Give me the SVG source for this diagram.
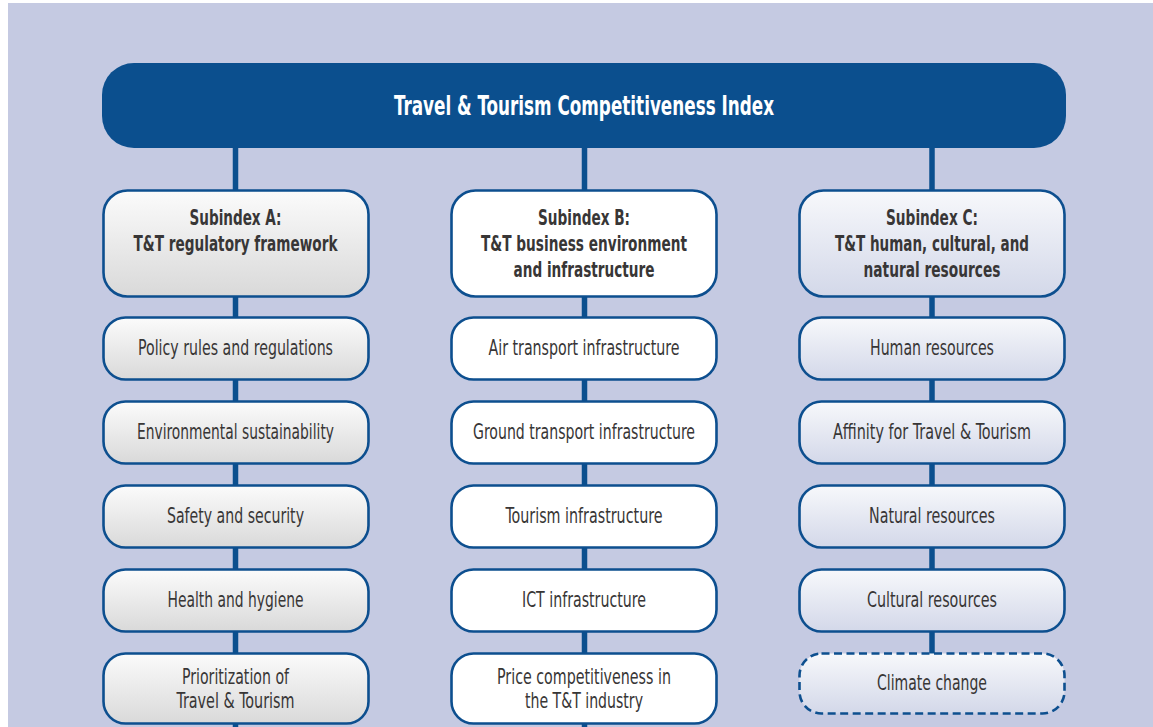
<svg xmlns="http://www.w3.org/2000/svg" width="1153" height="727" viewBox="0 0 1153 727">
<defs>
<linearGradient id="gA" x1="0" y1="0" x2="0" y2="1"><stop offset="0" stop-color="#fbfbfb"/><stop offset="1" stop-color="#d9d9d9"/></linearGradient>
<linearGradient id="gC" x1="0" y1="0" x2="0" y2="1"><stop offset="0" stop-color="#f7f8fb"/><stop offset="1" stop-color="#d3d8e9"/></linearGradient>
<style>
.box{stroke:#0d4f8f;stroke-width:2.6}
.a{fill:url(#gA)}
.b{fill:#ffffff}
.c{fill:url(#gC)}
.dash{stroke-dasharray:8 4.5}
.t{font-family:"Liberation Sans Narrow","DejaVu Sans Condensed","Liberation Sans",sans-serif;font-size:21px;fill:#383636;text-anchor:middle}
.h{font-weight:bold}
.title{font-family:"Liberation Sans Narrow","DejaVu Sans Condensed","Liberation Sans",sans-serif;font-size:26px;font-weight:bold;fill:#ffffff;text-anchor:middle}
.conn{stroke:#0b4f8e;stroke-width:5.5;fill:none}
</style>
</defs>
<rect x="0" y="0" width="1153" height="727" fill="#ffffff"/>
<rect x="8" y="3" width="1145" height="724" fill="#c5cae2"/>
<g id="connectors">
<line class="conn" x1="235.5" y1="140" x2="235.5" y2="727"/>
<line class="conn" x1="584.5" y1="140" x2="584.5" y2="727"/>
<line class="conn" x1="932" y1="140" x2="932" y2="660"/>
</g>
<g id="title">
<rect x="102" y="63" width="964" height="85" rx="32" fill="#0b4f8e"/>
<text class="title" x="584" y="115" textLength="380" lengthAdjust="spacingAndGlyphs">Travel &amp; Tourism Competitiveness Index</text>
</g>
<g id="subA">
<rect class="box a" x="103.5" y="190.5" width="265" height="106" rx="24"/>
<text class="t h" x="235.5" y="225" textLength="92" lengthAdjust="spacingAndGlyphs">Subindex A:</text>
<text class="t h" x="235.5" y="251" textLength="204" lengthAdjust="spacingAndGlyphs">T&amp;T regulatory framework</text>
</g>
<g id="subB">
<rect class="box b" x="451.5" y="190.5" width="265" height="106" rx="24"/>
<text class="t h" x="584" y="225" textLength="92" lengthAdjust="spacingAndGlyphs">Subindex B:</text>
<text class="t h" x="584" y="251" textLength="206" lengthAdjust="spacingAndGlyphs">T&amp;T business environment</text>
<text class="t h" x="584" y="277" textLength="141" lengthAdjust="spacingAndGlyphs">and infrastructure</text>
</g>
<g id="subC">
<rect class="box c" x="799.5" y="190.5" width="265" height="106" rx="24"/>
<text class="t h" x="932" y="225" textLength="92" lengthAdjust="spacingAndGlyphs">Subindex C:</text>
<text class="t h" x="932" y="251" textLength="194" lengthAdjust="spacingAndGlyphs">T&amp;T human, cultural, and</text>
<text class="t h" x="932" y="277" textLength="137" lengthAdjust="spacingAndGlyphs">natural resources</text>
</g>
<g id="a1"><rect class="box a" x="103.5" y="317.5" width="265" height="62" rx="22"/><text class="t" x="235.5" y="355" textLength="195" lengthAdjust="spacingAndGlyphs">Policy rules and regulations</text></g>
<g id="a2"><rect class="box a" x="103.5" y="401.5" width="265" height="62" rx="22"/><text class="t" x="235.5" y="439" textLength="197" lengthAdjust="spacingAndGlyphs">Environmental sustainability</text></g>
<g id="a3"><rect class="box a" x="103.5" y="485.5" width="265" height="62" rx="22"/><text class="t" x="235.5" y="523" textLength="137" lengthAdjust="spacingAndGlyphs">Safety and security</text></g>
<g id="a4"><rect class="box a" x="103.5" y="569.5" width="265" height="62" rx="22"/><text class="t" x="235.5" y="607" textLength="136" lengthAdjust="spacingAndGlyphs">Health and hygiene</text></g>
<g id="a5"><rect class="box a" x="103.5" y="653.5" width="265" height="70" rx="22"/><text class="t" x="235.5" y="684" textLength="107" lengthAdjust="spacingAndGlyphs">Prioritization of</text><text class="t" x="235.5" y="708" textLength="118" lengthAdjust="spacingAndGlyphs">Travel &amp; Tourism</text></g>
<g id="b1"><rect class="box b" x="451.5" y="317.5" width="265" height="62" rx="22"/><text class="t" x="584" y="355" textLength="191" lengthAdjust="spacingAndGlyphs">Air transport infrastructure</text></g>
<g id="b2"><rect class="box b" x="451.5" y="401.5" width="265" height="62" rx="22"/><text class="t" x="584" y="439" textLength="222" lengthAdjust="spacingAndGlyphs">Ground transport infrastructure</text></g>
<g id="b3"><rect class="box b" x="451.5" y="485.5" width="265" height="62" rx="22"/><text class="t" x="584" y="523" textLength="157" lengthAdjust="spacingAndGlyphs">Tourism infrastructure</text></g>
<g id="b4"><rect class="box b" x="451.5" y="569.5" width="265" height="62" rx="22"/><text class="t" x="584" y="607" textLength="124" lengthAdjust="spacingAndGlyphs">ICT infrastructure</text></g>
<g id="b5"><rect class="box b" x="451.5" y="653.5" width="265" height="70" rx="22"/><text class="t" x="584" y="684" textLength="174" lengthAdjust="spacingAndGlyphs">Price competitiveness in</text><text class="t" x="584" y="708" textLength="118" lengthAdjust="spacingAndGlyphs">the T&amp;T industry</text></g>
<g id="c1"><rect class="box c" x="799.5" y="317.5" width="265" height="62" rx="22"/><text class="t" x="932" y="355" textLength="124" lengthAdjust="spacingAndGlyphs">Human resources</text></g>
<g id="c2"><rect class="box c" x="799.5" y="401.5" width="265" height="62" rx="22"/><text class="t" x="932" y="439" textLength="198" lengthAdjust="spacingAndGlyphs">Affinity for Travel &amp; Tourism</text></g>
<g id="c3"><rect class="box c" x="799.5" y="485.5" width="265" height="62" rx="22"/><text class="t" x="932" y="523" textLength="126" lengthAdjust="spacingAndGlyphs">Natural resources</text></g>
<g id="c4"><rect class="box c" x="799.5" y="569.5" width="265" height="62" rx="22"/><text class="t" x="932" y="607" textLength="130" lengthAdjust="spacingAndGlyphs">Cultural resources</text></g>
<g id="c5"><rect class="box c dash" x="799.5" y="653.5" width="265" height="60" rx="22"/><text class="t" x="932" y="690" textLength="110" lengthAdjust="spacingAndGlyphs">Climate change</text></g>
</svg>
